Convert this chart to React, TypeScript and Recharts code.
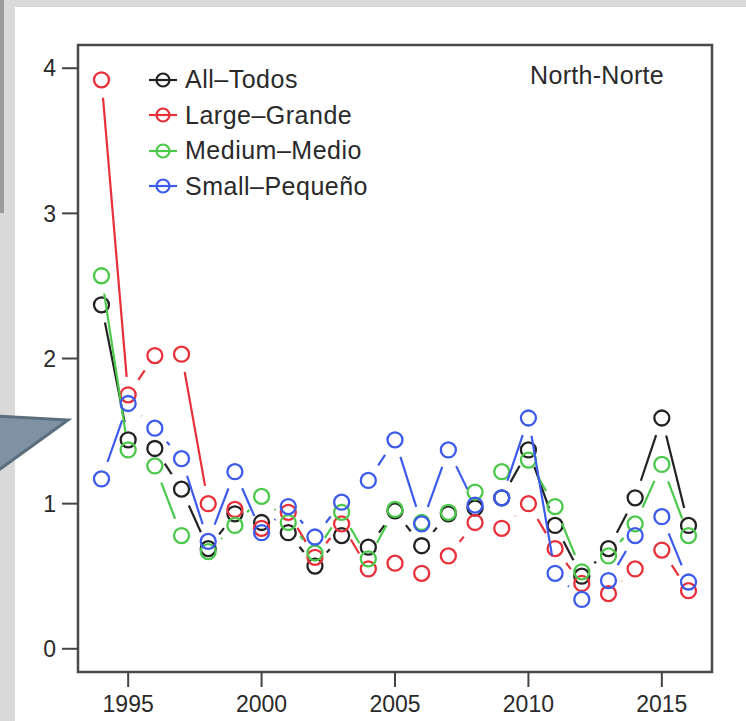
import React from "react";
import { ScatterChart, Scatter, XAxis, YAxis, ReferenceArea } from "recharts";

const years = [
  1994, 1995, 1996, 1997, 1998, 1999, 2000, 2001, 2002, 2003, 2004, 2005,
  2006, 2007, 2008, 2009, 2010, 2011, 2012, 2013, 2014, 2015, 2016,
];

const allTodos = [
  2.37, 1.44, 1.38, 1.1, 0.69, 0.93, 0.87, 0.8, 0.57, 0.78, 0.7, 0.95,
  0.71, 0.93, 0.97, 1.04, 1.37, 0.85, 0.5, 0.69, 1.04, 1.59, 0.85,
];
const largeGrande = [
  3.92, 1.75, 2.02, 2.03, 1.0, 0.96, 0.83, 0.94, 0.63, 0.86, 0.55, 0.59,
  0.52, 0.64, 0.87, 0.83, 1.0, 0.69, 0.45, 0.38, 0.55, 0.68, 0.4,
];
const mediumMedio = [
  2.57, 1.37, 1.26, 0.78, 0.67, 0.85, 1.05, 0.87, 0.66, 0.94, 0.62, 0.96,
  0.87, 0.94, 1.08, 1.22, 1.3, 0.98, 0.53, 0.64, 0.86, 1.27, 0.78,
];
const smallPequeno = [
  1.17, 1.69, 1.52, 1.31, 0.74, 1.22, 0.8, 0.98, 0.77, 1.01, 1.16, 1.44,
  0.86, 1.37, 0.99, 1.04, 1.59, 0.52, 0.34, 0.47, 0.78, 0.91, 0.46,
];

const xTicks = [1995, 2000, 2005, 2010, 2015];
const yTicks = [0, 1, 2, 3, 4];

const series = [
  { name: "All\u2013Todos", values: allTodos, color: "#222222" },
  { name: "Large\u2013Grande", values: largeGrande, color: "#e8303a" },
  { name: "Medium\u2013Medio", values: mediumMedio, color: "#4cc94c" },
  { name: "Small\u2013Peque\u00f1o", values: smallPequeno, color: "#3d5bea" },
];

const FONT = '"Liberation Sans", Arial, sans-serif';
const GAP = 18;

// R type="b": segments stop short of each point
const gappedLine = (color: string) => (props: any) => {
  const pts = props.points || [];
  const segs = [];
  for (let i = 1; i < pts.length; i++) {
    const a = pts[i - 1];
    const b = pts[i];
    const dx = b.x - a.x;
    const dy = b.y - a.y;
    const d = Math.sqrt(dx * dx + dy * dy);
    if (d <= GAP * 2) continue;
    const ux = dx / d;
    const uy = dy / d;
    segs.push(
      <line
        key={i}
        x1={a.x + ux * GAP}
        y1={a.y + uy * GAP}
        x2={b.x - ux * GAP}
        y2={b.y - uy * GAP}
        stroke={color}
        strokeWidth={2.2}
      />
    );
  }
  return <g>{segs}</g>;
};

const ring = (color: string) => (p: any) => (
  <circle cx={p.cx} cy={p.cy} r={7.5} fill="none" stroke={color} strokeWidth={2.3} />
);

export default function App() {
  return (
    <div
      style={{
        position: "relative",
        width: 746,
        height: 721,
        background: "#dadada",
        overflow: "hidden",
        fontFamily: FONT,
      }}
    >
      <style>{"body{margin:0}"}</style>
      <div style={{ position: "absolute", left: 0, top: 0, width: 4, height: 213, background: "#9c9c9c" }} />
      <div style={{ position: "absolute", left: 15, top: 7, right: 0, bottom: 0, background: "#ffffff" }} />
      <svg style={{ position: "absolute", left: 0, top: 400 }} width={80} height={80}>
        <polygon points="-4,16 68,20 -4,72" fill="#7e92a3" stroke="#5b6e7e" strokeWidth={3} />
      </svg>

      <div style={{ position: "absolute", left: 0, top: 0 }}>
        <ScatterChart width={746} height={721} margin={{ top: 45, right: 34, bottom: 19, left: 38 }}>
          <XAxis
            type="number"
            dataKey="year"
            domain={[1993.12, 2016.88]}
            ticks={xTicks}
            allowDataOverflow
            axisLine={false}
            tickLine={{ stroke: "#444", strokeWidth: 2 }}
            tickSize={15}
            tickMargin={9}
            height={30}
            tick={{ fontSize: 23, fill: "#2a2a2a", fontFamily: FONT }}
          />
          <YAxis
            type="number"
            dataKey="value"
            domain={[-0.16, 4.16]}
            ticks={yTicks}
            allowDataOverflow
            axisLine={false}
            tickLine={{ stroke: "#444", strokeWidth: 2 }}
            tickSize={16}
            tickMargin={6}
            width={40}
            tick={{ fontSize: 23, fill: "#2a2a2a", fontFamily: FONT }}
          />
          <ReferenceArea
            x1={1993.12}
            x2={2016.88}
            y1={-0.16}
            y2={4.16}
            fill="none"
            stroke="#4a4a4a"
            strokeWidth={2.5}
            ifOverflow="visible"
          />
          {series.map((s) => (
            <Scatter
              key={s.name}
              name={s.name}
              data={years.map((yr, i) => ({ year: yr, value: s.values[i] }))}
              fill={s.color}
              line={gappedLine(s.color)}
              shape={ring(s.color)}
              isAnimationActive={false}
            />
          ))}
        </ScatterChart>
      </div>

      <div style={{ position: "absolute", left: 147, top: 62 }}>
        {series.map((s) => (
          <div key={s.name} style={{ display: "flex", alignItems: "center", height: 35.5 }}>
            <svg width={38} height={20}>
              <line x1={2} y1={10} x2={30} y2={10} stroke={s.color} strokeWidth={2.2} />
              <circle cx={16} cy={10} r={6.5} fill="none" stroke={s.color} strokeWidth={2.2} />
            </svg>
            <span style={{ fontSize: 25, letterSpacing: 0.5, color: "#2a2a2a", lineHeight: 1 }}>{s.name}</span>
          </div>
        ))}
      </div>

      <div
        style={{
          position: "absolute",
          right: 746 - 664,
          top: 62,
          fontSize: 25,
          letterSpacing: 0.3,
          color: "#2a2a2a",
          lineHeight: 1.1,
          whiteSpace: "nowrap",
        }}
      >
        North-Norte
      </div>
    </div>
  );
}
